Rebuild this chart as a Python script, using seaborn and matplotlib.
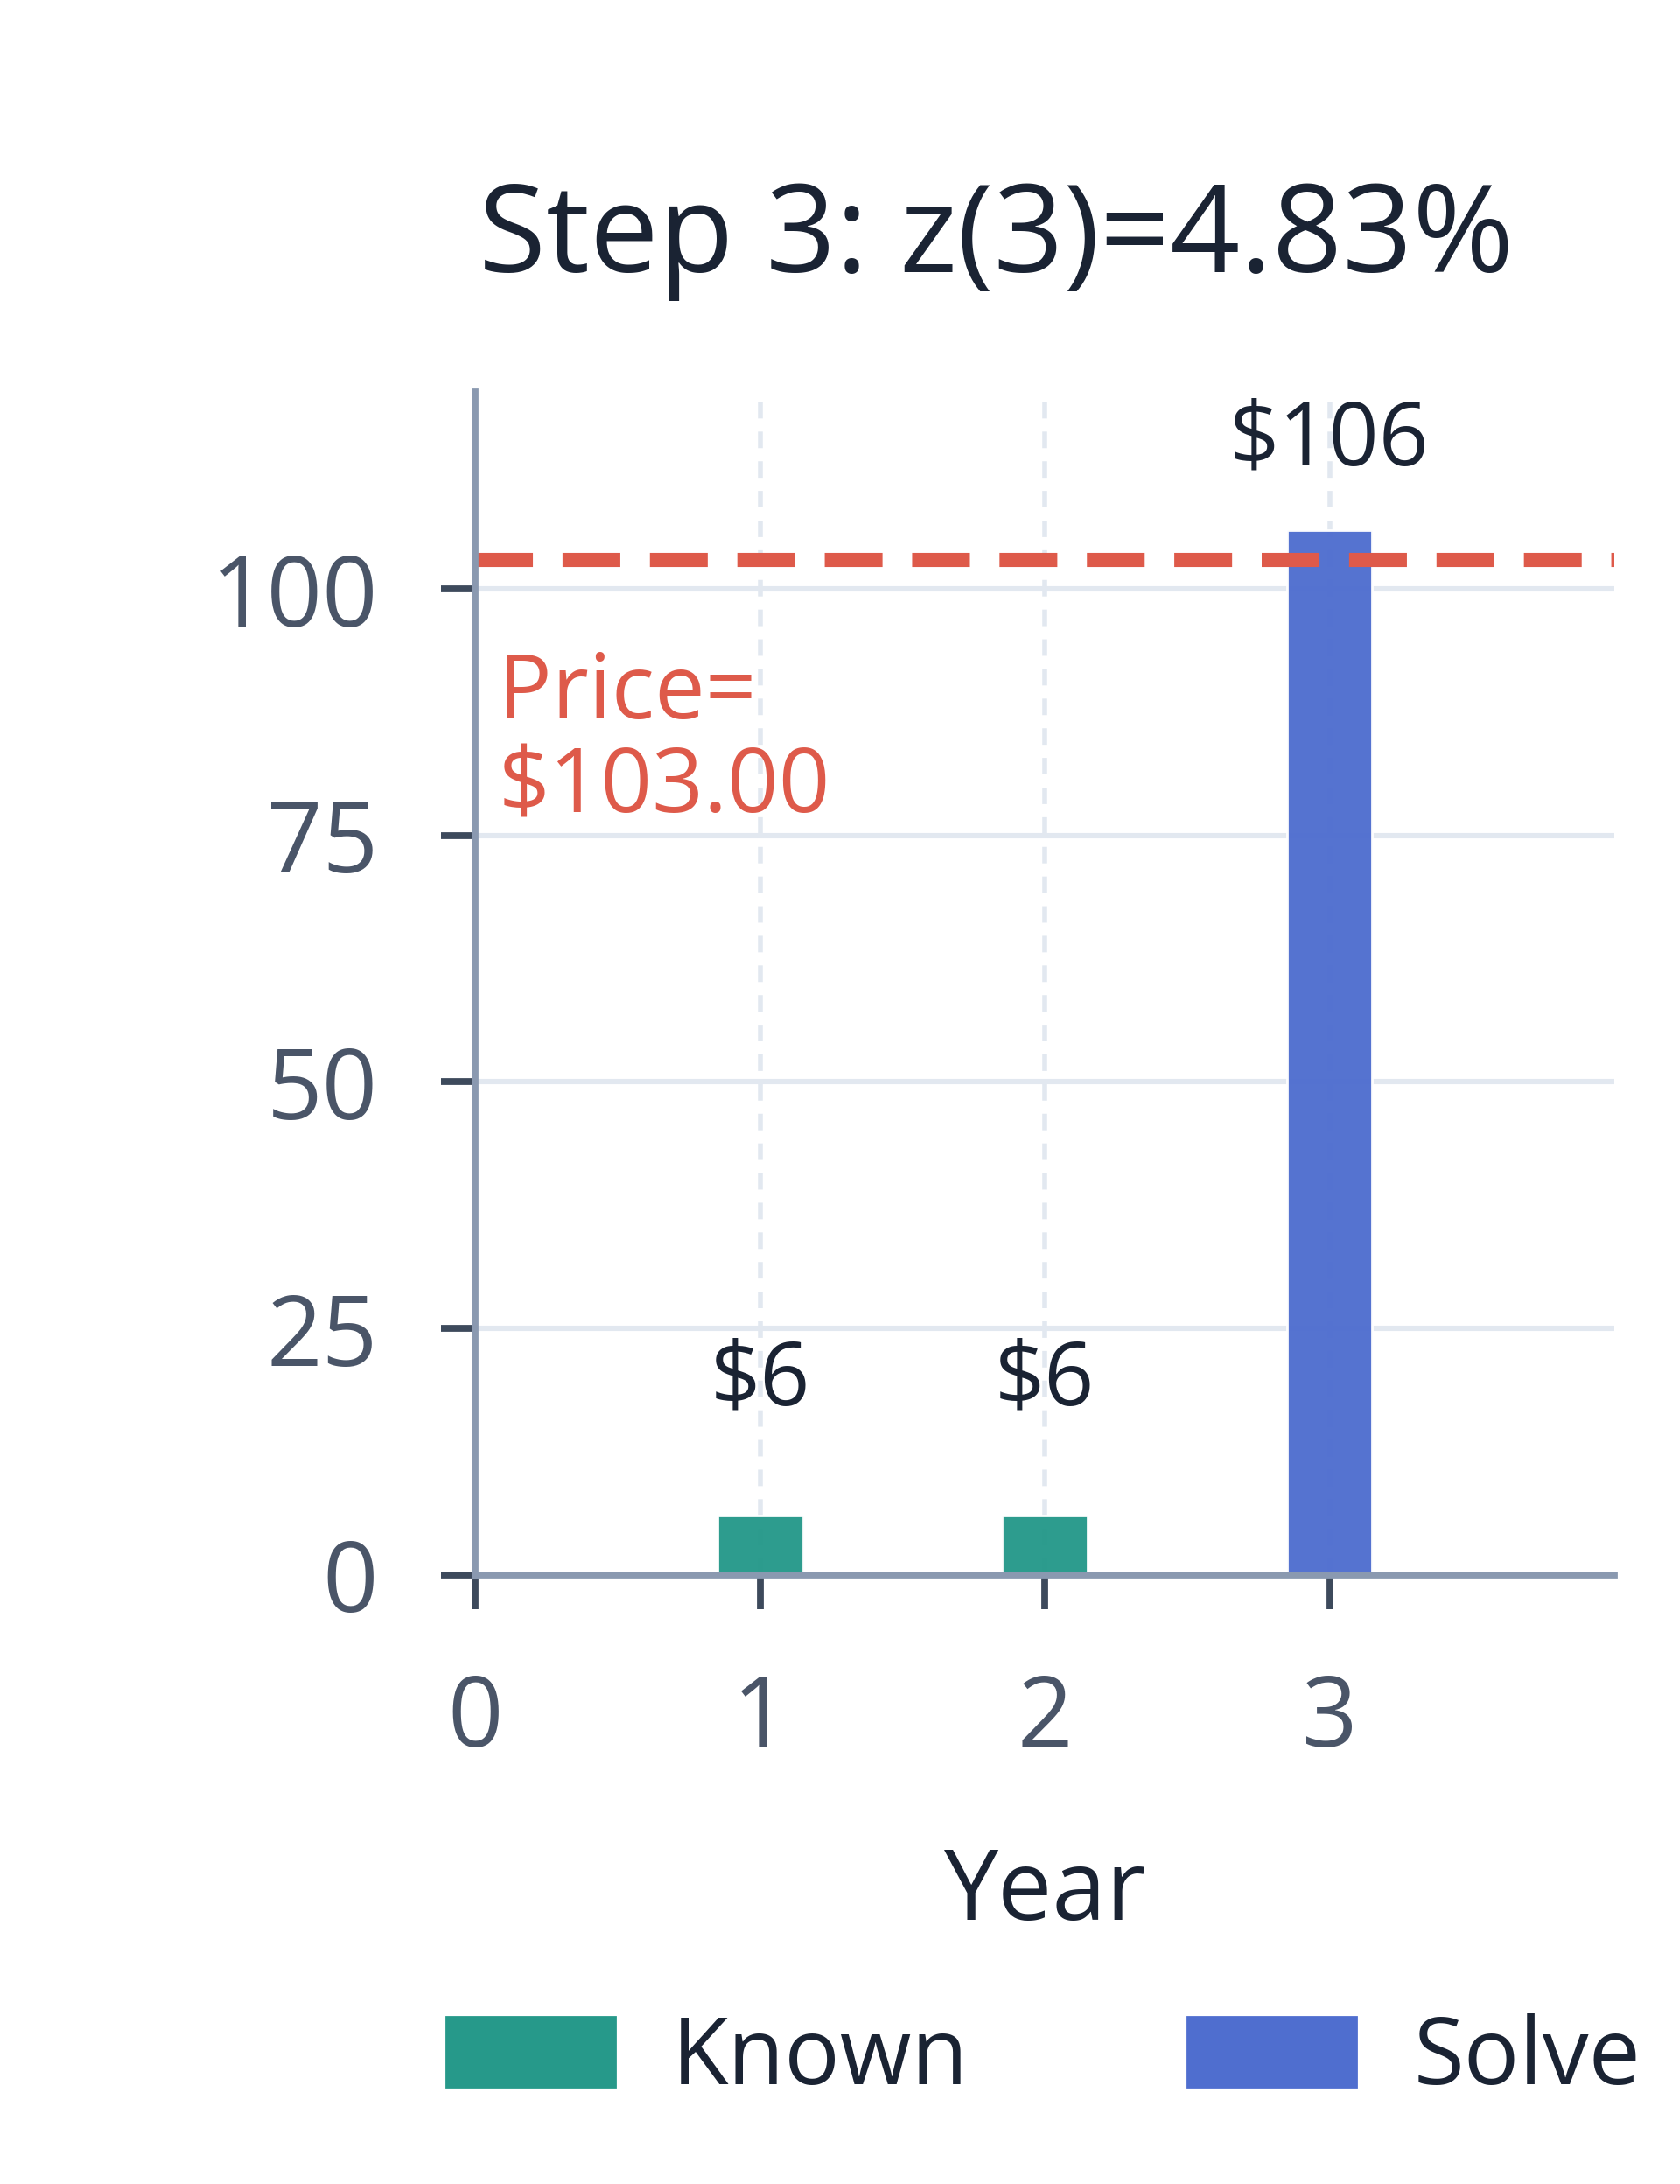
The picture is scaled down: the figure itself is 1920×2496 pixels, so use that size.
import matplotlib
matplotlib.use("Agg")
import matplotlib.pyplot as plt
import matplotlib.patches as mpatches
import seaborn as sns
import pandas as pd

# chart values
years = [1, 2, 3]
cash_flows = [6, 6, 106]
kinds = ["Known", "Known", "Solve"]
price = 103.00
title = "Step 3: z(3)=4.83%"

teal = "#26998A"
blue = "#4F6ECF"
red = "#DE5A4A"
ink = "#1A2333"
slate = "#4A5568"

sns.set_theme(style="white")
plt.rcParams["font.family"] = ["Open Sans", "DejaVu Sans"]

df = pd.DataFrame({"Year": years, "Cash": cash_flows, "Kind": kinds})

fig = plt.figure(figsize=(9.6, 12.48), dpi=200)
ax = fig.add_axes([0.283, 0.279, 0.678, 0.5415])

sns.barplot(data=df, x="Year", y="Cash", hue="Kind", native_scale=True,
            dodge=False, width=0.3, palette={"Known": teal, "Solve": blue},
            saturation=1, alpha=0.97, legend=False, ax=ax, zorder=3)

ax.set_xlim(0, 4)
ax.set_ylim(0, 120)
ax.set_xticks([0, 1, 2, 3])
ax.set_yticks([0, 25, 50, 75, 100])

# grid
for yv in [25, 50, 75, 100]:
    ax.axhline(yv, color="#E2E8F0", lw=2.2, zorder=1)
for xv in [1, 2, 3]:
    ax.axvline(xv, color="#E2E8F0", lw=2.0, ls=(0, (3.4, 2.7)), zorder=1)

# price line
ax.axhline(price, color=red, lw=5.8, ls=(0, (4.1, 2.1)), zorder=4)
ax.text(0.08, 93.8, "Price=\n$%.2f" % price, color=red, fontsize=37,
        va="top", ha="left", linespacing=1.05, zorder=5)

# bar labels
for x, v in zip(years, cash_flows):
    pad = 37 if v < 50 else 18
    ax.annotate("$%d" % v, (x, v), xytext=(0, pad), textcoords="offset points",
                ha="center", va="bottom", fontsize=36, color=ink, zorder=5)

for s in ["top", "right"]:
    ax.spines[s].set_visible(False)
for s in ["left", "bottom"]:
    ax.spines[s].set_color("#8A99B0")
    ax.spines[s].set_linewidth(2.8)
    ax.spines[s].set_zorder(6)

ax.tick_params(axis="both", bottom=True, left=True, length=14, width=2.8,
               color="#3D4A5C", labelsize=40, labelcolor=slate, pad=26,
               direction="out")
ax.set_ylabel("")
ax.set_xlabel("Year", fontsize=40, color=ink)
ax.xaxis.set_label_coords(0.5, -0.229)

fig.text(0.593, 0.890, title, fontsize=50.5, color=ink, ha="center", va="center")

handles = [mpatches.Patch(color=teal, label="Known"),
           mpatches.Patch(color=blue, label="Solve")]
fig.legend(handles=handles, loc="center", bbox_to_anchor=(0.621, 0.057), ncol=2,
           frameon=False, fontsize=38, handlelength=1.83, handleheight=0.78,
           handletextpad=0.62, columnspacing=2.36, labelcolor=ink)

fig.savefig("out.png", dpi=200, facecolor="white")
